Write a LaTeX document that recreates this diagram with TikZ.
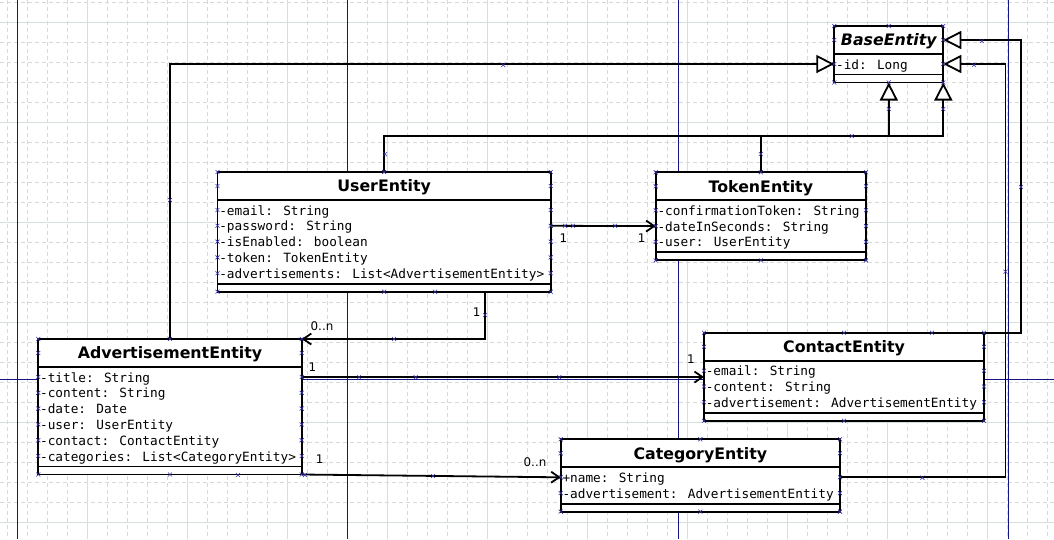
\documentclass[tikz,border=0pt]{standalone}
\usepackage{fontspec}
\setmainfont{DejaVu Sans}
\newfontfamily\monof{DejaVu Sans Mono}
\usetikzlibrary{arrows.meta}
\definecolor{gridminor}{RGB}{216,216,216}
\definecolor{gridmajor}{RGB}{214,222,222}
\definecolor{pageline}{RGB}{20,20,130}
\definecolor{mkcol}{RGB}{50,50,170}
\tikzset{
 classbox/.style={draw=black, fill=white, line width=1.9pt, rectangle, inner sep=0pt, outer sep=0pt},
 sepline/.style={line width=1.9pt},
 titletext/.style={font=\fontsize{15.8}{18}\selectfont\bfseries, inner sep=0pt},
 attrtext/.style={font=\monof\fontsize{12.75}{15}\selectfont, inner sep=0pt},
 multlabel/.style={font=\fontsize{11.9}{14}\selectfont, inner sep=0pt},
 conn/.style={line width=1.8pt, line join=miter},
 inherit/.style={conn, -{Triangle[length=18pt,width=18pt,fill=white,line width=1.8pt]}},
 assoc/.style={conn, -{Straight Barb[length=8pt,width=11pt,line width=1.8pt]}},
 mk/.style={draw=mkcol, line width=0.6pt},
 gridminorline/.style={draw=gridminor, line width=0.6pt, dash pattern=on 4pt off 3pt},
 gridmajorline/.style={draw=gridmajor, line width=0.8pt},
 pagelinestyle/.style={draw=pageline, line width=1pt},
}
\newcommand{\umlclass}[6]{%
  \foreach \rr [count=\ni] in {#6} {\xdef\nrows{\ni}}
  \pgfmathsetmacro\cw{#4-#2}
  \pgfmathsetmacro\ch{56.5+(\nrows-1)*15.8}
  \node[classbox, minimum width=\cw pt, minimum height=\ch pt, anchor=north west] (#1) at (#2,#3) {};
  \draw[sepline] ([yshift=-28pt]#1.north west) -- ([yshift=-28pt]#1.north east);
  \draw[sepline] ([yshift=8pt]#1.south west) -- ([yshift=8pt]#1.south east);
  \node[titletext, anchor=base] (#1-title) at ([yshift=-19.7pt]#1.north) {#5};
  \foreach \rr [count=\ni] in {#6} {
    \pgfmathsetmacro\ry{38+(\ni-1)*15.8}
    \coordinate (#1-w\ni) at ([yshift=-\ry pt]#1.north west);
    \coordinate (#1-e\ni) at ([yshift=-\ry pt]#1.north east);
    \node[attrtext, anchor=base west] (#1-r\ni) at ([xshift=1.6pt,yshift=-5pt]#1-w\ni) {\rr};
  }
  \coordinate (#1-wh) at ([yshift=-14pt]#1.north west);
  \coordinate (#1-eh) at ([yshift=-14pt]#1.north east);
}
\newcommand{\mk}[1]{\draw[mk, shift={(#1)}] (-2,-2) -- (2,2) (-2,2) -- (2,-2);}
\newcommand{\classmarks}[2]{%
  \foreach \a in {north west,north,north east,south west,south,south east} {\mk{#1.\a}}
  \mk{#1-wh}\mk{#1-eh}
  \foreach \i in {1,...,#2} {\mk{#1-w\i}\mk{#1-e\i}}
}
\begin{document}
\begin{tikzpicture}[x=1pt,y=-1pt]
\useasboundingbox (0,0) rectangle (1054,539);
\fill[white] (0,0) rectangle (1054,539);
% grid
\foreach \k in {0,...,52} {\draw[gridminorline] ({7+20*\k},0) -- ({7+20*\k},539);}
\foreach \k in {0,...,26} {\draw[gridminorline] (0,{2+20*\k}) -- (1054,{2+20*\k});}
\foreach \k in {0,...,9} {\draw[gridmajorline] ({87+100*\k},0) -- ({87+100*\k},539);}
\foreach \k in {0,...,5} {\draw[gridmajorline] (0,{22+100*\k}) -- (1054,{22+100*\k});}
% page lines
\foreach \xx in {17,347.5,678.5,1008.5} {\draw[pagelinestyle] (\xx,0) -- (\xx,539);}
\draw[pagelinestyle] (0,379) -- (1054,379);
% classes
\umlclass{base}{834.3}{26}{943.3}{\itshape BaseEntity}{-id: Long}
\umlclass{user}{217.5}{172}{550.7}{UserEntity}{-email: String,-password: String,-isEnabled: boolean,-token: TokenEntity,-advertisements: List<AdvertisementEntity>}
\umlclass{token}{655.7}{172.3}{866}{TokenEntity}{-confirmationToken: String,-dateInSeconds: String,-user: UserEntity}
\umlclass{adv}{38.3}{339}{301.7}{AdvertisementEntity}{-title: String,-content: String,-date: Date,-user: UserEntity,-contact: ContactEntity,-categories: List<CategoryEntity>}
\umlclass{contact}{704}{332.7}{984}{ContactEntity}{-email: String,-content: String,-advertisement: AdvertisementEntity}
\umlclass{category}{560.7}{439.3}{840}{CategoryEntity}{+name: String,-advertisement: AdvertisementEntity}
% helper coordinates
\coordinate (busA) at (888.8,136);
\coordinate (busB) at (943.3,136);
\coordinate (cR) at (1021,200);
\coordinate (kR) at (1005.5,300);
\coordinate (ua) at (485,291.7);
% connectors
\draw[inherit] (adv.north) |- (base-w1);
\draw[inherit] (user.north) |- (busB) -- (base.south east);
\draw[inherit] (token.north) |- (busA) -- (base.south);
\draw[inherit] (contact.north east) -| (cR) |- (base-eh);
\draw[inherit] (category-e1) -| (kR) |- (base-e1);
\draw[assoc] (user-e2) -- (token-w2);
\draw[assoc] (ua) |- (adv.north east);
\draw[assoc] (adv-e1) -- (adv-e1 -| contact.west);
\draw[assoc] (adv.south east) -- (category-w1);
% multiplicities
\node[multlabel] (m1) at (563.3,238.3) {1};
\node[multlabel] (m2) at (641.7,238.3) {1};
\node[multlabel] (m3) at (476.7,312.3) {1};
\node[multlabel] (m4) at (322,326) {0..n};
\node[multlabel] (m5) at (312.5,366.7) {1};
\node[multlabel] (m6) at (690.8,359) {1};
\node[multlabel] (m7) at (319.6,458.7) {1};
\node[multlabel] (m8) at (535,462) {0..n};
% connection markers
\classmarks{base}{1}
\classmarks{user}{5}
\classmarks{token}{3}
\classmarks{adv}{6}
\classmarks{contact}{3}
\classmarks{category}{2}
\foreach \px/\py in {435/291.7,238/475,305/475,503.3/65,170/200,385/154.3,760.8/154,851.7/136,888.8/109,943.3/109,981.7/41,974/65,1021/187,1005.5/271.7,922.3/477.7,932/332.7,565/225.8,573/225.8,615/225.8,485/315,394/339,359/377.3,415.7/377.3,559.3/377.3,433/476} {\mk{\px,\py}}
\end{tikzpicture}
\end{document}
